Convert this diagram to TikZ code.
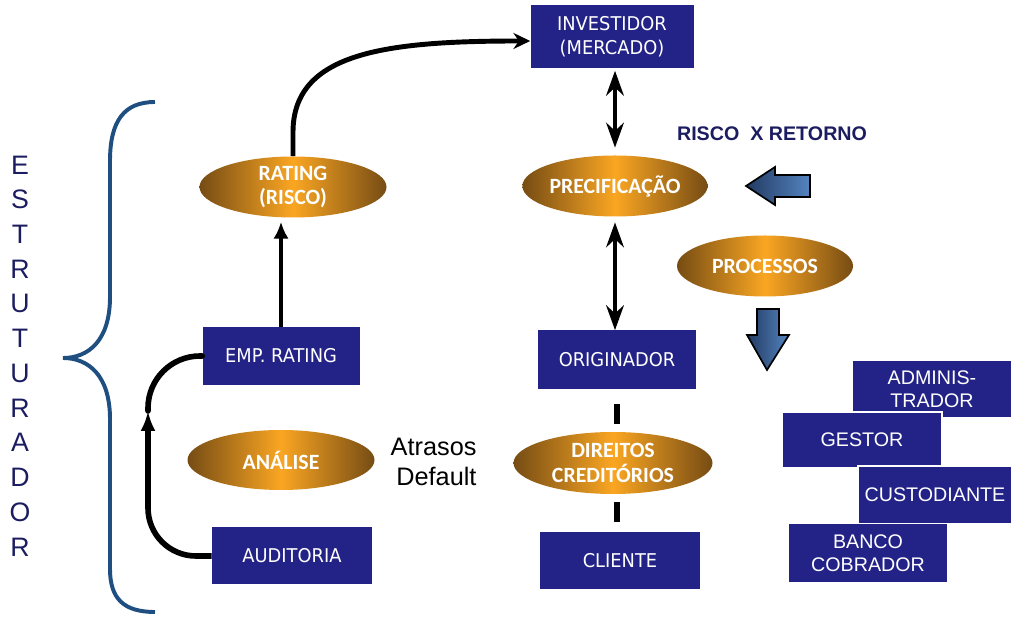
\documentclass[tikz,border=0pt]{standalone}
\usepackage{fontspec}
\setmainfont{Liberation Sans}
\newfontfamily\boxfont[FakeStretch=0.94]{DejaVu Sans}
\newfontfamily\ellfont{Carlito}
\usetikzlibrary{arrows.meta,shapes.geometric}

\definecolor{boxblue}{RGB}{35,35,135}
\definecolor{ellbrown}{RGB}{118,76,20}
\definecolor{ellorange}{RGB}{250,166,34}
\definecolor{arrdark}{RGB}{34,58,98}
\definecolor{arrlight}{RGB}{84,132,192}
\definecolor{bracecol}{RGB}{31,78,128}
\definecolor{navy}{RGB}{28,28,96}

\begin{document}
\begin{tikzpicture}
    \tikzstyle{box}=[rectangle, fill=boxblue, text=white, align=center, inner sep=0pt, font=\boxfont\fontsize{13.5}{17}\selectfont]
    \tikzstyle{sidebox}=[rectangle, fill=boxblue, draw=white, line width=0.8pt, text=white, align=center, inner sep=0pt, minimum width=4cm, font=\fontsize{14}{16.5}\selectfont]
    \tikzstyle{stage}=[ellipse, left color=ellbrown, right color=ellbrown, middle color=ellorange, text=white, align=center, inner sep=0pt, font=\ellfont\bfseries\fontsize{15.5}{17.5}\selectfont]
    \tikzstyle{link}=[line width=3.5pt]
    \tikzstyle{twoway}=[link, {Stealth[length=0.62cm,width=0.44cm]}-{Stealth[length=0.62cm,width=0.44cm]}]
    \tikzstyle{rise}=[link, -{Latex[length=0.42cm,width=0.38cm]}]
    \tikzstyle{piece}=[line width=4.5pt]
    \tikzstyle{blockarrow}=[draw=black, line width=1.2pt, left color=arrdark, right color=arrlight]

    \useasboundingbox (0,0) rectangle (25.325,15.625);

    % Left column
    \node[stage, minimum width=4.675cm, minimum height=1.525cm] (rating) at (7.325,10.95) {RATING\\(RISCO)};
    \node[box, minimum width=3.925cm, minimum height=1.45cm] (emp) at (7.025,6.725) {EMP. RATING};
    \node[stage, minimum width=4.675cm, minimum height=1.5cm] (analise) at (7.025,4.125) {ANÁLISE};
    \node[box, minimum width=4cm, minimum height=1.425cm] (aud) at (7.3,1.725) {AUDITORIA};
    \node[align=right, font=\fontsize{18}{21}\selectfont] (atr) at (10.84,4.075) {Atrasos\\Default};

    % Middle column
    \node[box, minimum width=4.075cm, minimum height=1.575cm] (inv) at (15.3,14.7) {INVESTIDOR\\(MERCADO)};
    \node[stage, minimum width=4.4cm, minimum height=1.525cm] (prec) at (15.375,10.975) {PRECIFICAÇÃO};
    \node[box, minimum width=3.95cm, minimum height=1.475cm] (orig) at (15.425,6.625) {ORIGINADOR};
    \node[stage, minimum width=4.975cm, minimum height=1.55cm] (dir) at (15.325,4.05) {DIREITOS\\CREDITÓRIOS};
    \node[box, minimum width=4cm, minimum height=1.425cm] (cli) at (15.5,1.6) {CLIENTE};

    % Right side
    \node[text=navy, font=\bfseries\fontsize{14}{16}\selectfont] (rr) at (19.3,12.275) {RISCO\ \ X RETORNO};
    \node[stage, minimum width=4.4cm, minimum height=1.525cm] (proc) at (19.125,8.975) {PROCESSOS};
    \node[sidebox, minimum height=1.45cm] (adm) at (23.3,5.9) {ADMINIS-\\TRADOR};
    \node[sidebox, minimum height=1.4cm] (gest) at (21.55,4.625) {GESTOR};
    \node[sidebox, minimum width=3.85cm, minimum height=1.45cm] (cust) at (23.375,3.25) {CUSTODIANTE};
    \node[sidebox, minimum height=1.475cm] (banco) at (21.7,1.8) {BANCO\\COBRADOR};

    % Block arrows
    \draw[blockarrow] (18.65,10.975) -- (19.375,11.45) -- (19.375,11.25) -- (20.25,11.25) -- (20.25,10.7) -- (19.375,10.7) -- (19.375,10.5) -- cycle;
    \draw[blockarrow] (18.925,7.9) -- (19.475,7.9) -- (19.475,7.25) -- (19.725,7.25) -- (19.175,6.375) -- (18.675,7.25) -- (18.925,7.25) -- cycle;

    % The brace and its label
    \draw[bracecol, line width=2.8pt] (3.875,13.075) .. controls (3.1,13.075) and (2.75,12.6) .. (2.75,11.6) -- (2.75,8.2)
        .. controls (2.75,7.1) and (2.2,6.675) .. (1.575,6.675)
        .. controls (2.2,6.675) and (2.75,6.25) .. (2.75,5.15) -- (2.75,1.4)
        .. controls (2.75,0.65) and (3.1,0.325) .. (3.875,0.325);
    \foreach \ch [count=\i] in {E,S,T,R,U,T,U,R,A,D,O,R}
        \node[text=navy, font=\fontsize{19}{19}\selectfont, inner sep=0pt] (est-\i) at (0.5,{11.5-0.868*(\i-1)}) {\ch};

    % Connectors
    \draw[link, -{Stealth[length=0.42cm,width=0.4cm]}] (rating.north) -- ++(0,0.6) .. controls +(0,2.0) and +(-3.6,0) .. ([yshift=-0.1cm]inv.west);
    \draw[rise, shorten >=0.1cm] (emp.north) -- (emp.north |- rating.south);
    \coordinate (turn) at (3.7,5.35);
    \draw[link, line width=4pt, -{Latex[length=0.5cm,width=0.38cm]}, rounded corners=1.2cm] (aud.west) -| (turn);
    \draw[link, line width=4pt, line cap=round, rounded corners=1.3cm] (turn) |- (emp.west);
    \draw[twoway, shorten <=0.05cm, shorten >=0.19cm] (inv.south -| prec.north) -- (prec.north);
    \draw[twoway, shorten <=0.14cm] (prec.south) -- (prec.south |- orig.north);
    \draw[piece, shorten <=0.35cm, shorten >=0.2cm] (orig.south) -- (orig.south |- dir.north);
    \draw[piece, shorten <=0.2cm, shorten >=0.26cm] (orig.south |- dir.south) -- (orig.south |- cli.north);
\end{tikzpicture}
\end{document}
